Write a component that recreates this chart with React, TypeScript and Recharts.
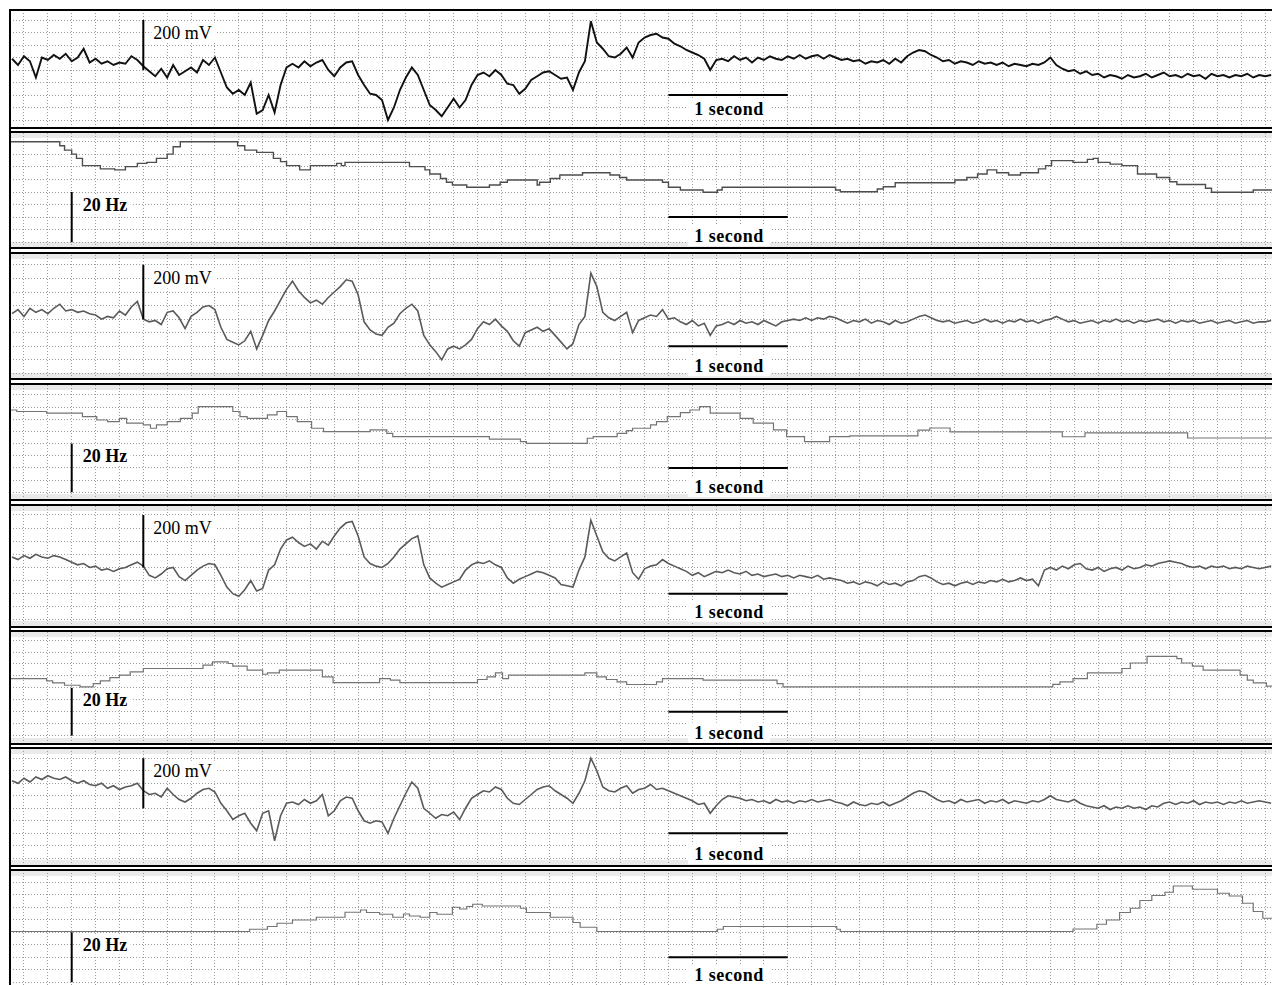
import { LineChart, Line, XAxis, YAxis, ReferenceLine } from "recharts"

// time axis in seconds, 0 on the first vertical grid line, 0.2 s per grid cell
const X_DOMAIN: [number, number] = [-0.117, 10.457]
const GRID_SECONDS = Array.from({ length: 53 }, (_, k) => Math.round(k * 2) / 10)
const MV_GRID = [-200, -150, -100, -50, 0, 50, 100, 150, 200]
const HZ_GRID = [0, 5, 10, 15, 20, 25, 30, 35, 40]

const SAMPLE_START = -0.1
const SAMPLE_STEP = 0.05

// EEG channels (mV), one sample every 50 ms
const ch1Mv = [
  45, 20, 55, 35, -30, 50, 40, 60, 45, 65,
  35, 50, 85, 30, 45, 25, 35, 20, 30, 25,
  55, 40, 15, -5, -25, 5, -30, 20, -20, -5,
  10, -10, 40, 20, 50, -10, -70, -95, -80, -100,
  -50, -175, -160, -100, -170, -60, 10, 25, 10, 35,
  15, 30, 40, 0, -25, 10, 30, 35, -20, -60,
  -95, -100, -120, -200, -150, -80, -30, 10, -20, -80,
  -140, -160, -185, -150, -115, -150, -120, -60, -20, -10,
  -25, 0, -20, -55, -60, -95, -75, -40, -25, -10,
  -5, -20, -35, -30, -80, -10, 35, 195, 110, 85,
  55, 50, 65, 90, 50, 110, 130, 140, 145, 130,
  125, 105, 95, 80, 70, 60, 45, 0, 40, 45,
  35, 55, 40, 50, 30, 50, 40, 55, 45, 40,
  55, 45, 60, 45, 55, 60, 45, 60, 50, 40,
  45, 35, 40, 25, 35, 30, 40, 25, 45, 30,
  55, 70, 80, 75, 60, 50, 35, 40, 25, 35,
  30, 20, 35, 25, 30, 20, 30, 15, 25, 20,
  15, 25, 20, 30, 50, 20, 5, -5, 0, -15,
  -5, -20, -15, -30, -20, -25, -35, -20, -30, -25,
  -15, -30, -20, -10, -25, -20, -30, -15, -25, -20,
  -35, -15, -25, -20, -30, -20, -25, -15, -30, -20,
  -25, -20,
]

const ch2Mv = [
  20, 35, 10, 40, 25, 35, 20, 40, 55, 30,
  35, 25, 30, 20, 15, 0, 10, 5, 30, 15,
  45, 65, 0, -10, -5, -20, 25, 30, 5, -35,
  10, 25, 45, 50, 35, -30, -75, -85, -95, -80,
  -45, -110, -60, -5, 30, 70, 110, 140, 105, 80,
  60, 70, 55, 80, 100, 120, 145, 140, 90, -10,
  -40, -55, -60, -30, -15, 20, 40, 55, 30, -60,
  -95, -120, -150, -110, -100, -110, -95, -75, -35, -10,
  -20, 0, -25, -45, -80, -100, -50, -40, -30, -45,
  -35, -60, -85, -110, -90, -20, 10, 170, 120, 25,
  5, -5, 10, 25, -50, -5, 5, 15, 10, 35,
  0, 5, -10, -20, -5, -25, -15, -60, -25, -20,
  -10, -20, -5, -15, -10, -20, -5, -15, -25, -10,
  -5, 0, -5, 5, -5, 5, 0, 10, 5, -5,
  -15, -5, -10, 0, -15, -5, -10, -20, -5, -15,
  -10, 0, 10, 15, 5, -5, -10, -5, -15, -10,
  -5, -15, -10, 0, -10, -5, -15, -5, -10, 0,
  -10, -5, -15, -5, 0, 10, 0, -10, -5, -15,
  -10, -5, -15, -5, -10, 0, -10, -5, -15, -5,
  -10, -5, 0, -10, -5, -15, -5, -10, -5, -15,
  -10, -5, -15, -10, -5, -15, -10, -5, -15, -10,
  -10, -5,
]

const ch3Mv = [
  40, 30, 45, 35, 50, 40, 35, 45, 40, 30,
  20, 10, 15, 0, 5, -10, -5, -15, -5, 0,
  10, 20, 5, -30, -40, -25, -5, 0, -35, -50,
  -30, -10, 5, 15, 10, -30, -75, -100, -110, -85,
  -50, -90, -80, -10, 10, 70, 105, 115, 95, 80,
  90, 70, 100, 85, 120, 150, 170, 175, 120, 40,
  15, 5, 0, 15, 40, 70, 90, 110, 120, 10,
  -40, -60, -75, -65, -55, -45, -10, 10, 20, 15,
  25, 10, 0, -40, -60, -45, -35, -25, -15, -20,
  -30, -40, -65, -70, -75, -10, 40, 180, 120, 60,
  35, 25, 40, 55, -20, -45, -5, 5, 10, 30,
  15, 5, -5, -15, -30, -20, -35, -25, -15, -20,
  -10, -20, -25, -15, -30, -25, -35, -30, -25, -35,
  -30, -40, -30, -35, -40, -30, -45, -40, -45, -50,
  -60, -55, -65, -55, -60, -70, -55, -65, -60, -70,
  -55, -50, -35, -30, -40, -55, -65, -60, -70, -60,
  -55, -65, -55, -60, -50, -55, -45, -55, -50, -40,
  -50, -45, -70, -10, 0, -10, 5, -5, 10, 15,
  -5, -10, 0, -15, -5, 0, -10, 5, -5, 0,
  10, 5, 15, 20, 25, 20, 15, 5, 0, 5,
  -5, 5, 0, 5, -5, 0, -5, 5, 0, -5,
  0, 5,
]

const ch4Mv = [
  110, 100, 120, 105, 125, 115, 130, 120, 115, 125,
  110, 100, 110, 95, 90, 100, 80, 90, 75, 85,
  90, 100, 70, 55, 60, 45, 80, 55, 35, 25,
  40, 60, 75, 80, 65, 20, -10, -45, -30, -20,
  -60, -90, -20, -10, -130, -30, 20, 25, 15, 35,
  20, 30, 55, -30, -10, 30, 45, 40, -10, -50,
  -60, -50, -55, -100, -40, 10, 60, 105, 80, 0,
  -20, -40, -25, -30, -15, -45, 0, 40, 55, 70,
  65, 85, 75, 40, 20, 15, 35, 55, 75, 85,
  90, 70, 55, 40, 20, 60, 110, 200, 150, 85,
  70, 65, 80, 90, 60, 75, 80, 95, 75, 80,
  70, 60, 50, 40, 30, 15, 20, -20, 10, 35,
  50, 45, 40, 30, 35, 25, 30, 20, 35, 25,
  30, 20, 30, 25, 35, 25, 30, 35, 25, 20,
  10, 25, 15, 10, 20, 15, 25, 10, 20, 30,
  45, 60, 70, 65, 50, 35, 25, 30, 20, 35,
  25, 30, 35, 20, 30, 25, 35, 20, 30, 25,
  20, 30, 25, 35, 50, 35, 30, 25, 35, 20,
  10, 5, 0, 10, -5, 5, 0, 10, 0, 5,
  -5, 10, 5, 20, 25, 15, 25, 20, 30, 15,
  25, 20, 25, 15, 25, 20, 30, 20, 25, 30,
  25, 20,
]

// dominant frequency (Hz), [time s, value] at each step change
const ch1Hz: [number, number][] = [
  [-0.12, 40], [0.3, 38.4], [0.34, 36.7], [0.4, 35.1], [0.44, 33.4], [0.49, 30.5], [0.64, 29.2],
  [0.76, 28.8], [0.85, 30.1], [0.95, 31.4], [1.03, 31.8], [1.11, 33.4], [1.2, 35.1], [1.25, 38],
  [1.31, 40], [1.79, 38.4], [1.85, 36.7], [1.95, 35.8], [2.09, 33.4], [2.15, 32.1], [2.2, 30.5],
  [2.31, 28.8], [2.4, 30.5], [2.62, 31.4], [2.66, 30.5], [2.69, 31.8], [3.23, 30.1], [3.36, 28.8],
  [3.4, 27.2], [3.49, 25.4], [3.54, 23.9], [3.59, 22.8], [3.71, 21.9], [3.9, 22.8], [3.99, 23.9],
  [4.05, 24.8], [4.3, 22.8], [4.32, 23.9], [4.41, 25.4], [4.49, 26.8], [4.68, 27.7], [4.91, 26.8],
  [4.99, 25.8], [5.05, 24.8], [5.35, 23.9], [5.4, 21.9], [5.5, 20.8], [5.69, 19.9], [5.81, 20.8],
  [5.85, 21.9], [6.8, 20.8], [6.84, 20.1], [7.15, 21.2], [7.2, 22.1], [7.3, 23.7], [7.8, 24.8],
  [7.9, 25.8], [7.99, 27.2], [8.07, 28.8], [8.15, 27.7], [8.25, 26.8], [8.35, 27.7], [8.5, 29.2],
  [8.56, 30.5], [8.61, 32.5], [8.79, 31.8], [8.91, 33.0], [8.96, 33.4], [9.0, 31.8], [9.1, 31.1],
  [9.2, 30.5], [9.33, 27.2], [9.49, 25.8], [9.6, 24.1], [9.66, 23.0], [9.9, 21.5], [9.95, 19.9],
  [10.3, 20.8],
]

const ch2Hz: [number, number][] = [
  [-0.12, 33.8], [-0.06, 33.2], [0.19, 32.5], [0.49, 31.1], [0.61, 29.7], [0.7, 29.0], [0.8, 30.4],
  [0.86, 28.4], [1.0, 27.7], [1.06, 26.3], [1.11, 27.7], [1.2, 29.0], [1.31, 30.4], [1.41, 32.5],
  [1.46, 35.2], [1.75, 33.2], [1.81, 31.1], [1.87, 30.4], [2.04, 31.8], [2.12, 33.2], [2.2, 31.1],
  [2.29, 29.0], [2.41, 26.3], [2.51, 24.9], [2.9, 25.6], [3.04, 24.2], [3.09, 22.9], [3.9, 21.8],
  [4.16, 20.8], [4.21, 20.1], [4.72, 22.2], [4.77, 22.9], [4.97, 24.2], [5.05, 25.3], [5.1, 26.3],
  [5.25, 27.7], [5.3, 29.0], [5.39, 31.1], [5.5, 32.7], [5.58, 33.8], [5.66, 35.2], [5.75, 32.5],
  [6.0, 30.4], [6.11, 28.4], [6.28, 25.6], [6.39, 22.9], [6.54, 20.8], [6.75, 22.9], [6.92, 23.2],
  [7.49, 25.5], [7.59, 26.4], [7.76, 24.8], [8.7, 22.8], [8.89, 24.4], [9.75, 22.3],
]

const ch3Hz: [number, number][] = [
  [-0.12, 23.9], [0.19, 22.9], [0.24, 22.1], [0.34, 21.1], [0.47, 20.4], [0.58, 21.8], [0.64, 22.9],
  [0.72, 24.3], [0.8, 25.3], [0.89, 26.7], [1.0, 28.1], [1.5, 29.5], [1.58, 30.9], [1.71, 30.2],
  [1.75, 29.1], [1.87, 27.4], [2.0, 25.7], [2.04, 26.3], [2.14, 27.4], [2.5, 24.6], [2.59, 22.2],
  [2.98, 23.9], [3.07, 23.2], [3.15, 22.2], [3.8, 23.5], [3.88, 24.6], [3.95, 26.3], [4.01, 23.9],
  [4.06, 25.3], [4.7, 26.3], [4.8, 24.6], [4.88, 23.5], [4.97, 22.5], [5.05, 21.4], [5.3, 22.5],
  [5.35, 23.9], [5.69, 23.2], [6.31, 21.8], [6.36, 20.4], [8.62, 21.5], [8.68, 22.5], [8.79, 23.9],
  [8.91, 26.3], [9.2, 28.1], [9.27, 30.4], [9.41, 33.2], [9.66, 32.2], [9.7, 30.4], [9.79, 29.1],
  [9.88, 27.4], [10.19, 25.3], [10.25, 23.2], [10.3, 22.1], [10.41, 20.7],
]

const ch4Hz: [number, number][] = [
  [-0.12, 20.3], [1.89, 21.2], [2.04, 22.3], [2.12, 23.6], [2.25, 24.9], [2.45, 26.0], [2.69, 28.0],
  [2.82, 28.9], [2.87, 27.9], [2.98, 27.2], [3.09, 26.0], [3.18, 27.3], [3.23, 26.5], [3.32, 26.0],
  [3.4, 27.9], [3.46, 27.2], [3.59, 30.0], [3.65, 29.3], [3.71, 30.3], [3.76, 31.2], [3.84, 30.5],
  [4.16, 29.6], [4.21, 27.9], [4.41, 26.0], [4.6, 23.9], [4.66, 22.0], [4.8, 20.3], [5.81, 21.2],
  [5.86, 22.3], [6.81, 21.2], [6.84, 20.3], [8.79, 21.3], [8.99, 23.2], [9.07, 24.9], [9.18, 27.9],
  [9.27, 29.6], [9.35, 32.7], [9.45, 34.7], [9.56, 36.0], [9.63, 38.5], [9.79, 37.2], [10.0, 35.6],
  [10.1, 34.5], [10.21, 31.6], [10.3, 28.3], [10.38, 25.6],
]

const SCALE_MV = 200
const SCALE_HZ = 20
const SECOND_BAR: [number, number] = [5.4, 6.4]

const eegRows = (mv: number[]) => mv.map((v, i) => ({ t: SAMPLE_START + i * SAMPLE_STEP, v }))
const freqRows = (steps: [number, number][]) => [
  ...steps.map(([t, v]) => ({ t, v })),
  { t: X_DOMAIN[1], v: steps[steps.length - 1][1] },
]

const FONT = "'Liberation Serif', 'Times New Roman', serif"
const GRID_STROKE = "#9c9c9c"

type PanelSpec = {
  id: string
  kind: "eeg" | "freq"
  top: number
  bottom: number
  domain: [number, number]
  rows: { t: number; v: number }[]
  color: string
  width: number
  topBand: boolean
  bottomBand: boolean
  secondDy: number
}

const PANELS: PanelSpec[] = [
  { id: "eeg1", kind: "eeg", top: 10, bottom: 128, domain: [-232, 240], rows: eegRows(ch1Mv), color: "#111", width: 1.9, topBand: false, bottomBand: false, secondDy: 14 },
  { id: "hz1", kind: "freq", top: 132, bottom: 248, domain: [-2.3, 43.9], rows: freqRows(ch1Hz), color: "#4e4e4e", width: 1.4, topBand: true, bottomBand: true, secondDy: 19 },
  { id: "eeg2", kind: "eeg", top: 253, bottom: 379, domain: [-221, 244], rows: eegRows(ch2Mv), color: "#5a5a5a", width: 1.6, topBand: true, bottomBand: true, secondDy: 20 },
  { id: "hz2", kind: "freq", top: 384, bottom: 500, domain: [-3.2, 44.5], rows: freqRows(ch2Hz), color: "#747474", width: 1.2, topBand: true, bottomBand: true, secondDy: 19 },
  { id: "eeg3", kind: "eeg", top: 505, bottom: 627, domain: [-227, 238], rows: eegRows(ch3Mv), color: "#5a5a5a", width: 1.6, topBand: true, bottomBand: true, secondDy: 18 },
  { id: "hz3", kind: "freq", top: 631, bottom: 744, domain: [-3.5, 43.8], rows: freqRows(ch3Hz), color: "#747474", width: 1.2, topBand: true, bottomBand: true, secondDy: 21 },
  { id: "eeg4", kind: "eeg", top: 748, bottom: 866, domain: [-231, 241], rows: eegRows(ch4Mv), color: "#5a5a5a", width: 1.6, topBand: true, bottomBand: true, secondDy: 21 },
  { id: "hz4", kind: "freq", top: 870, bottom: 988, domain: [-2.3, 44.9], rows: freqRows(ch4Hz), color: "#747474", width: 1.2, topBand: true, bottomBand: false, secondDy: 18 },
]

function scaleLabel(text: string, weight: number, gap: number, boxW: number) {
  return (props: any) => {
    const vb = props.viewBox
    if (!vb) return null
    const x = vb.x + gap
    const y = vb.y + vb.height * 0.25
    return (
      <g>
        <rect x={x - 2} y={y - 10} width={boxW} height={20} fill="#fff" />
        <text x={x} y={y} dominantBaseline="central" fontFamily={FONT} fontSize={18} fontWeight={weight} fill="#000">
          {text}
        </text>
      </g>
    )
  }
}

function secondLabel(dy: number) {
  return (props: any) => {
    const vb = props.viewBox
    if (!vb) return null
    const cx = vb.x + vb.width / 2
    const cy = vb.y + dy
    return (
      <g>
        <rect x={cx - 40} y={cy - 10} width={82} height={20} fill="#fff" />
        <text x={cx + 1} y={cy} textAnchor="middle" dominantBaseline="central" fontFamily={FONT} fontSize={18} fontWeight={700} letterSpacing={0.5} fill="#000">
          1 second
        </text>
      </g>
    )
  }
}

function Panel({ p }: { p: PanelSpec }) {
  const h = p.bottom - p.top
  const eeg = p.kind === "eeg"
  const yTicks = eeg ? MV_GRID : HZ_GRID
  const barX = eeg ? 1.0 : 0.4
  const barTop = eeg ? SCALE_MV : SCALE_HZ
  const secY = eeg ? -100 : 10
  return (
    <div style={{ position: "absolute", left: 10, top: p.top, width: 1262, height: h }}>
      {p.topBand && <div style={{ position: "absolute", left: 0, top: 1, width: "100%", height: 5, background: "#eaeaea" }} />}
      {p.bottomBand && <div style={{ position: "absolute", left: 0, top: h - 6, width: "100%", height: 5, background: "#eaeaea" }} />}
      <div style={{ position: "absolute", left: 0, top: 0 }}>
        <LineChart width={1262} height={h} data={p.rows} margin={{ top: 0, right: 0, bottom: 0, left: 0 }}>
          <XAxis type="number" dataKey="t" domain={X_DOMAIN} hide allowDataOverflow />
          <YAxis type="number" domain={p.domain} hide allowDataOverflow />
          {GRID_SECONDS.map((s) => (
            <ReferenceLine key={"x" + s} x={s} stroke={GRID_STROKE} strokeDasharray="1 2" shapeRendering="crispEdges" />
          ))}
          {yTicks.map((v) => (
            <ReferenceLine key={"y" + v} y={v} stroke={GRID_STROKE} strokeDasharray="1 2" shapeRendering="crispEdges" />
          ))}
          <Line
            type={eeg ? "linear" : "stepAfter"}
            dataKey="v"
            stroke={p.color}
            strokeWidth={p.width}
            strokeLinejoin="miter"
            dot={false}
            isAnimationActive={false}
          />
          <ReferenceLine
            segment={[{ x: barX, y: 0 }, { x: barX, y: barTop }]}
            stroke="#000"
            strokeWidth={2}
            label={eeg ? scaleLabel("200 mV", 400, 10, 64) : scaleLabel("20 Hz", 700, 11, 50)}
          />
          <ReferenceLine
            segment={[{ x: SECOND_BAR[0], y: secY }, { x: SECOND_BAR[1], y: secY }]}
            stroke="#000"
            strokeWidth={2}
            label={secondLabel(p.secondDy)}
          />
        </LineChart>
      </div>
    </div>
  )
}

export default function App() {
  return (
    <div style={{ position: "absolute", left: 0, top: 0, width: 1272, height: 985, overflow: "hidden", background: "#fff" }}>
      {PANELS.map((p) => (
        <Panel key={p.id} p={p} />
      ))}
      {PANELS.map((p) => (
        <div key={"b" + p.id}>
          <div style={{ position: "absolute", left: 9, top: p.top - 1, width: 1263, height: 2, background: "#000" }} />
          <div style={{ position: "absolute", left: 9, top: p.bottom - 1, width: 1263, height: 2, background: "#000" }} />
        </div>
      ))}
      <div style={{ position: "absolute", left: 9, top: 9, width: 2, height: 976, background: "#000" }} />
    </div>
  )
}
